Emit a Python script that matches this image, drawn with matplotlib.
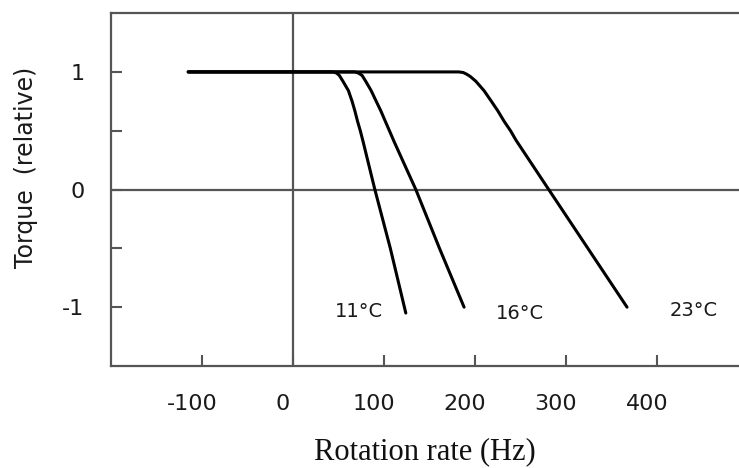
import numpy as np
import matplotlib
matplotlib.use("Agg")
import matplotlib.pyplot as plt
from matplotlib.transforms import ScaledTranslation

# torque-vs-rotation curves (Hz, relative torque)
x_11 = [-115, 44, 48, 51, 55, 61, 65, 68, 71, 74, 77, 90, 107, 124]
y_11 = [1, 1, 0.99, 0.97, 0.92, 0.84, 0.75, 0.67, 0.58, 0.5, 0.41, 0, -0.5, -1.05]

x_16 = [-115, 68, 72, 76, 80, 86, 91.5, 96.5, 101.5, 106, 111, 135, 161, 188]
y_16 = [1, 1, 0.99, 0.97, 0.92, 0.84, 0.75, 0.67, 0.58, 0.5, 0.41, 0, -0.5, -1.0]

x_23 = [-115, 182, 187, 191, 195, 201, 210, 218, 225, 232, 239, 245, 281, 324, 367]
y_23 = [1, 1, 0.995, 0.98, 0.96, 0.92, 0.84, 0.75, 0.67, 0.58, 0.5, 0.42, 0, -0.5, -1.0]

curve_labels = ["11°C", "16°C", "23°C"]
label_x = [72, 249, 440]
label_y = [-1.04, -1.05, -1.03]

xticks = [-100, 0, 100, 200, 300, 400]
yticks = [1, 0, -1]
yminor = [0.5, -0.5]

fig = plt.figure(figsize=(7.39, 4.68), dpi=100)
ax = fig.add_axes([0.150, 0.218, 0.850, 0.754])

frame = "#555555"
ax.axhline(0, color=frame, lw=1.6, zorder=1)
ax.axvline(0, color=frame, lw=1.6, zorder=1)

for xs, ys in [(x_11, y_11), (x_16, y_16), (x_23, y_23)]:
    ax.plot(xs, ys, color="black", lw=2.2, solid_joinstyle="round",
            solid_capstyle="round", zorder=3)

for lab, lx, ly in zip(curve_labels, label_x, label_y):
    ax.text(lx, ly, lab, fontsize=14, ha="center", va="center", color="#1a1a1a")

ax.set_xlim(-200, 490)
ax.set_ylim(-1.5, 1.5)

ax.set_xticks(xticks)
ax.set_xticklabels([str(t) for t in xticks])
ax.set_yticks(yticks)
ax.set_yticklabels([str(t) for t in yticks])
ax.set_yticks(yminor, minor=True)

ax.tick_params(axis="both", which="both", direction="in", length=8, width=1.5,
               color=frame, labelsize=16, labelcolor="#1a1a1a")
ax.tick_params(axis="x", pad=20)
ax.tick_params(axis="y", pad=19)

# tick labels sit a little left of their ticks in the original
shift = ScaledTranslation(-10 / 100, 0, fig.dpi_scale_trans)
for lbl in ax.get_xticklabels():
    lbl.set_transform(lbl.get_transform() + shift)

for side in ["left", "bottom", "top"]:
    ax.spines[side].set_color(frame)
    ax.spines[side].set_linewidth(1.6)
ax.spines["right"].set_visible(False)

ax.set_xlabel("Rotation rate (Hz)", family="Liberation Serif", fontsize=22,
              labelpad=17, color="#111111")
ax.set_ylabel("Torque  (relative)", fontsize=17, color="#1a1a1a")
ax.yaxis.set_label_coords(-0.116, 0.564)

fig.savefig("out.png", dpi=100)
